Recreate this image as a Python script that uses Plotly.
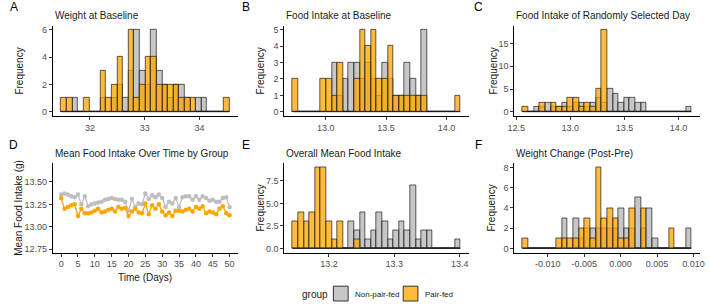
import numpy as np
import plotly.graph_objects as go

W, H = 709, 305

groups = ["Non-pair-fed", "Pair-fed"]

# ---- Panel A: Weight at Baseline (30 bins) ----
a_bin_start, a_bin_width = 31.473, 0.1026
a_nonpair = [0,0,1,0,0,0,0,1,0,1,2,1,3,6,3,2,6,3,2,1,2,2,1,0,1,1,0,0,0,0]
a_pair    = [1,1,0,0,1,0,0,3,1,2,4,0,6,1,2,4,4,2,2,2,2,1,1,1,0,0,0,0,0,1]

# ---- Panel B: Food Intake at Baseline ----
b_bin_start, b_bin_width = 12.727, 0.0463
b_nonpair = [0,0,0,0,0,0,0,3,1,2,3,3,2,3,2,1,3,2,1,1,3,2,1,5,0,0,0,0,0,0]
b_pair    = [2,0,0,0,0,2,2,1,3,0,0,2,5,4,5,2,2,4,1,1,1,1,1,1,0,0,0,0,0,1]

# ---- Panel C: Food Intake of Randomly Selected Day ----
c_bin_start, c_bin_width = 12.56, 0.052
c_nonpair = [0,0,1,1,2,1,1,2,1,2,2,1,2,3,2,5,4,2,3,3,2,2,0,0,0,0,0,0,0,1]
c_pair    = [1,0,0,2,0,2,1,1,3,3,1,2,1,5,18,0,0,0,0,0,0,0,0,0,0,0,0,0,0,0]

# ---- Panel D: Mean Food Intake Over Time by Group ----
days = list(range(0, 51))
d_nonpair = [13.36,13.37,13.36,13.34,13.33,13.36,13.25,13.34,13.23,13.25,
             13.26,13.27,13.28,13.30,13.31,13.32,13.31,13.30,13.30,13.28,
             13.18,13.31,13.22,13.26,13.25,13.37,13.31,13.35,13.33,13.36,
             13.32,13.22,13.28,13.26,13.32,13.22,13.33,13.34,13.34,13.30,
             13.34,13.30,13.34,13.32,13.29,13.30,13.28,13.28,13.32,13.33,
             13.22]
d_pair = [13.32,13.20,13.22,13.24,13.25,13.12,13.20,13.15,13.15,13.16,
          13.18,13.20,13.16,13.17,13.19,13.20,13.17,13.22,13.20,13.21,
          13.12,13.17,13.20,13.16,13.15,13.26,13.14,13.24,13.20,13.25,
          13.17,13.13,13.16,13.12,13.18,13.18,13.17,13.19,13.20,13.17,
          13.22,13.20,13.23,13.15,13.17,13.16,13.14,13.20,13.23,13.15,
          13.13]

# ---- Panel E: Overall Mean Food Intake ----
e_bin_start, e_bin_width = 13.1444, 0.00857
e_nonpair = [0,0,0,0,0,0,0,0,0,0,3,2,4,1,2,4,3,1,2,3,2,7,1,2,2,0,0,0,0,1]
e_pair    = [3,4,3,4,9,9,3,1,3,0,0,1,0,0,0,0,0,0,0,0,0,0,0,0,0,0,0,0,0,0]

# ---- Panel F: Weight Change (Post-Pre) ----
f_bin_start, f_bin_width = -0.01344, 0.000773
f_nonpair = [0,0,0,0,0,0,0,3,0,3,1,2,2,2,2,2,2,4,2,2,5,2,4,1,0,0,0,0,0,2]
f_pair    = [1,0,0,0,0,0,1,1,1,1,2,3,1,8,3,4,3,1,1,4,0,4,0,0,0,0,2,0,0,0]

titles = ["Weight at Baseline", "Food Intake at Baseline",
          "Food Intake of Randomly Selected Day",
          "Mean Food Intake Over Time by Group", "Overall Mean Food Intake",
          "Weight Change (Post-Pre)"]
letters = ["A", "B", "C", "D", "E", "F"]

GRAY_FILL = "rgba(178,178,178,0.72)"
ORANGE_FILL = "rgba(255,165,0,0.76)"
OUTLINE = "rgba(20,20,20,0.85)"
TICK_FONT = dict(family="Liberation Sans, Arial, sans-serif", size=9, color="#4D4D4D")
TXT_FONT = dict(family="Liberation Sans, Arial, sans-serif", size=10, color="#1A1A1A")

# pixel layout
col_x = [(46.5, 235.0), (282.0, 470.0), (516.0, 705.0)]
row_y = [(25.0, 116.0), (164.0, 254.0)]

def px_x(p):
    return p / W

def px_y(p):
    return 1 - p / H

fig = go.Figure()
layout_axes = {}

hist_panels = {
    1: (a_bin_start, a_bin_width, a_nonpair, a_pair, [32, 33, 34], ["32", "33", "34"], [0, 2, 4, 6], ["0", "2", "4", "6"]),
    2: (b_bin_start, b_bin_width, b_nonpair, b_pair, [13.0, 13.5, 14.0], ["13.0", "13.5", "14.0"], [0, 1, 2, 3, 4, 5], ["0", "1", "2", "3", "4", "5"]),
    3: (c_bin_start, c_bin_width, c_nonpair, c_pair, [12.5, 13.0, 13.5, 14.0], ["12.5", "13.0", "13.5", "14.0"], [0, 5, 10, 15], ["0", "5", "10", "15"]),
    5: (e_bin_start, e_bin_width, e_nonpair, e_pair, [13.2, 13.3, 13.4], ["13.2", "13.3", "13.4"], [0, 2.5, 5, 7.5], ["0.0", "2.5", "5.0", "7.5"]),
    6: (f_bin_start, f_bin_width, f_nonpair, f_pair, [-0.01, -0.005, 0, 0.005, 0.01], ["-0.010", "-0.005", "0.000", "0.005", "0.010"], [0, 2, 4, 6, 8], ["0", "2", "4", "6", "8"]),
}

for i in range(1, 7):
    r = (i - 1) // 3
    c = (i - 1) % 3
    xa = "x" if i == 1 else f"x{i}"
    ya = "y" if i == 1 else f"y{i}"
    xkey = "xaxis" if i == 1 else f"xaxis{i}"
    ykey = "yaxis" if i == 1 else f"yaxis{i}"
    x0p, x1p = col_x[c]
    y0p, y1p = row_y[r]
    common = dict(showline=True, linecolor="black", linewidth=1, ticks="outside",
                  ticklen=3, tickcolor="#333333", tickwidth=1, showgrid=False,
                  zeroline=False, tickfont=TICK_FONT, ticklabeloverflow="allow")
    if i in hist_panels:
        start, bw, nonp, pair, xt, xtl, yt, ytl = hist_panels[i]
        n = len(nonp)
        centers = start + bw * (np.arange(n) + 0.5)
        edges_lo, edges_hi = start, start + bw * n
        span = edges_hi - edges_lo
        ymax = max(max(nonp), max(pair))
        # zero baseline drawn by ggplot for empty bins
        fig.add_trace(go.Scatter(x=[edges_lo, edges_hi], y=[0, 0], mode="lines",
                                 line=dict(color=OUTLINE, width=0.8), xaxis=xa, yaxis=ya,
                                 showlegend=False, hoverinfo="skip"))
        fig.add_trace(go.Bar(x=centers, y=nonp, width=bw, name=groups[0],
                             marker=dict(color=GRAY_FILL, line=dict(color=OUTLINE, width=0.8)),
                             xaxis=xa, yaxis=ya, showlegend=False))
        fig.add_trace(go.Bar(x=centers, y=pair, width=bw, name=groups[1],
                             marker=dict(color=ORANGE_FILL, line=dict(color=OUTLINE, width=0.8)),
                             xaxis=xa, yaxis=ya, showlegend=False))
        layout_axes[xkey] = dict(domain=[px_x(x0p), px_x(x1p)], anchor=ya,
                                 range=[edges_lo - 0.05 * span, edges_hi + 0.05 * span],
                                 tickvals=xt, ticktext=xtl, **common)
        layout_axes[ykey] = dict(domain=[px_y(y1p), px_y(y0p)], anchor=xa,
                                 range=[-0.05 * ymax, 1.05 * ymax],
                                 tickvals=yt, ticktext=ytl, **common)
    else:
        fig.add_trace(go.Scatter(x=days, y=d_nonpair, mode="lines+markers", name=groups[0],
                                 line=dict(color="#BEBEBE", width=1.3),
                                 marker=dict(color="#BEBEBE", size=4.5),
                                 xaxis=xa, yaxis=ya, showlegend=False))
        fig.add_trace(go.Scatter(x=days, y=d_pair, mode="lines+markers", name=groups[1],
                                 line=dict(color="#FFA500", width=1.3),
                                 marker=dict(color="#FFA500", size=4.5),
                                 xaxis=xa, yaxis=ya, showlegend=False))
        layout_axes[xkey] = dict(domain=[px_x(x0p), px_x(x1p)], anchor=ya,
                                 range=[-2.5, 52.5], tickvals=list(range(0, 51, 5)), **common)
        layout_axes[ykey] = dict(domain=[px_y(y1p), px_y(y0p)], anchor=xa,
                                 range=[12.714, 13.706], tickvals=[12.75, 13.0, 13.25, 13.5],
                                 ticktext=["12.75", "13.00", "13.25", "13.50"], **common)

annotations = []
title_y = [15, 154]
letter_y = [6, 145]
letter_x = [7, 243, 480]
for i in range(6):
    r, c = i // 3, i % 3
    annotations.append(dict(text=titles[i], x=px_x(col_x[c][0]), y=px_y(title_y[r]),
                            xref="paper", yref="paper", xanchor="left", yanchor="middle",
                            showarrow=False, font=TXT_FONT))
    annotations.append(dict(text=letters[i], x=px_x(letter_x[c]), y=px_y(letter_y[r]),
                            xref="paper", yref="paper", xanchor="center", yanchor="middle",
                            showarrow=False, font=dict(family=TXT_FONT["family"], size=12, color="black")))

ylab_x = [[13, 258, 495], [12, 258, 493]]
for i in range(6):
    r, c = i // 3, i % 3
    label = "Mean Food Intake (g)" if i == 3 else "Frequency"
    yc = (row_y[r][0] + row_y[r][1]) / 2
    annotations.append(dict(text=label, x=px_x(ylab_x[r][c]), y=px_y(yc), textangle=-90,
                            xref="paper", yref="paper", xanchor="center", yanchor="middle",
                            showarrow=False, font=TXT_FONT))

annotations.append(dict(text="Time (Days)", x=px_x(140), y=px_y(279), xref="paper", yref="paper",
                        xanchor="center", yanchor="middle", showarrow=False, font=TXT_FONT))

# legend
annotations.append(dict(text="group", x=px_x(313), y=px_y(296), xref="paper", yref="paper",
                        xanchor="center", yanchor="middle", showarrow=False, font=TXT_FONT))
annotations.append(dict(text=groups[0], x=px_x(352), y=px_y(296), xref="paper", yref="paper",
                        xanchor="left", yanchor="middle", showarrow=False,
                        font=dict(family=TXT_FONT["family"], size=8, color="#1A1A1A")))
annotations.append(dict(text=groups[1], x=px_x(423), y=px_y(296), xref="paper", yref="paper",
                        xanchor="left", yanchor="middle", showarrow=False,
                        font=dict(family=TXT_FONT["family"], size=8, color="#1A1A1A")))
shapes = [
    dict(type="rect", xref="paper", yref="paper", x0=px_x(332), x1=px_x(347),
         y0=px_y(303), y1=px_y(288), fillcolor=GRAY_FILL, line=dict(color=OUTLINE, width=1)),
    dict(type="rect", xref="paper", yref="paper", x0=px_x(403), x1=px_x(418),
         y0=px_y(303), y1=px_y(288), fillcolor=ORANGE_FILL, line=dict(color=OUTLINE, width=1)),
]

fig.update_layout(width=W, height=H, margin=dict(l=0, r=0, t=0, b=0),
                  paper_bgcolor="white", plot_bgcolor="white", barmode="overlay",
                  bargap=0, annotations=annotations, shapes=shapes, showlegend=False,
                  **layout_axes)

fig.write_html("out.html")
